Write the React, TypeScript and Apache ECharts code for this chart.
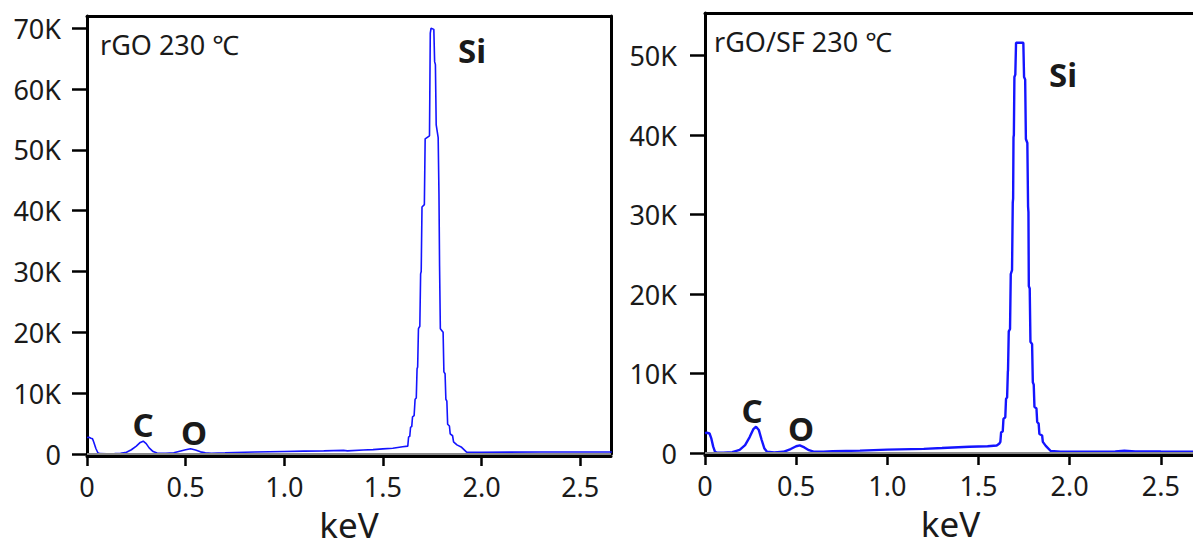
import React, { useEffect, useRef } from "react";
import * as echarts from "echarts";

// ---- Data: left panel (rGO 230 ℃) ----
const energyA = [
  0.0, 0.01, 0.02, 0.028, 0.035, 0.045, 0.055, 0.065, 0.1, 0.14, 0.17, 0.2, 0.225, 0.25, 0.27, 0.285, 0.3, 0.315,
  0.335, 0.355, 0.4, 0.44, 0.47, 0.5, 0.525, 0.55, 0.575, 0.6, 0.63, 0.7, 0.8, 0.85, 1.0, 1.1, 1.2, 1.3, 1.32, 1.4,
  1.45, 1.5, 1.55, 1.6, 1.626, 1.63, 1.636, 1.64, 1.646, 1.65, 1.658, 1.663, 1.669, 1.673, 1.676, 1.68, 1.687,
  1.691, 1.694, 1.698, 1.71, 1.714, 1.736, 1.74, 1.744, 1.758, 1.762, 1.766, 1.77, 1.78, 1.784, 1.787, 1.791,
  1.805, 1.809, 1.815, 1.819, 1.824, 1.828, 1.837, 1.841, 1.853, 1.858, 1.875, 1.899, 1.924, 2.0, 2.3, 2.66,
];
const countsA = [
  2700, 2750, 2600, 2500, 1900, 900, 200, 60, 50, 60, 120, 300, 700, 1300, 1900, 2100, 1700, 1000,
  400, 150, 100, 200, 450, 700, 850, 650, 350, 200, 120, 180, 280, 330, 420, 480, 520, 600, 520, 650,
  720, 850, 950, 1200, 1300, 2800, 2900, 4400, 4500, 6100, 6300, 9000, 9200, 14000, 14300, 20600, 21000,
  29600, 30000, 40600, 41000, 51800, 52300, 69200, 70000, 69800, 64500, 64000, 54100, 52000, 42800, 31000, 20600,
  20000, 13500, 13200, 9000, 8700, 4900, 4600, 3300, 3000, 2000, 1500, 1100, 300, 300, 330, 320,
];

// ---- Data: right panel (rGO/SF 230 ℃) ----
const energyB = [
  0.0, 0.01, 0.025, 0.035, 0.045, 0.055, 0.065, 0.1, 0.15, 0.19, 0.22, 0.245, 0.265, 0.28, 0.295, 0.31, 0.325,
  0.34, 0.38, 0.43, 0.47, 0.5, 0.52, 0.545, 0.57, 0.6, 0.65, 0.7, 0.85, 1.0, 1.2, 1.3, 1.45, 1.55, 1.6, 1.615,
  1.62, 1.624, 1.633, 1.637, 1.647, 1.651, 1.657, 1.661, 1.662, 1.666, 1.673, 1.677, 1.684, 1.688, 1.69, 1.692,
  1.694, 1.697, 1.702, 1.706, 1.746, 1.75, 1.756, 1.76, 1.768, 1.772, 1.774, 1.776, 1.781, 1.785, 1.794, 1.798,
  1.803, 1.807, 1.818, 1.822, 1.83, 1.834, 1.849, 1.853, 1.869, 1.896, 1.95, 2.1, 2.25, 2.3, 2.36, 2.5, 2.7,
];
const countsB = [
  2500, 2550, 2450, 1800, 800, 150, 50, 40, 100, 400, 1000, 2000, 3000, 3300, 2900, 1700, 600,
  150, 80, 150, 500, 850, 950, 700, 350, 150, 150, 220, 300, 420, 520, 620, 780, 850, 950, 1200,
  1400, 2600, 2700, 4300, 4500, 6800, 7000, 10200, 10400, 15300, 15600, 22500, 23000, 31500, 32000, 39700,
  40000, 47300, 47600, 51600, 51600, 47300, 47000, 39500, 39000, 31000, 30300, 21000, 20700, 14000, 13700, 8900,
  8600, 5800, 5600, 3900, 3700, 2400, 2200, 1400, 900, 250, 150, 150, 200, 280, 200, 180, 170,
];

const xTicks = [0, 0.5, 1.0, 1.5, 2.0, 2.5];
const yTicksA = [0, 10000, 20000, 30000, 40000, 50000, 60000, 70000];
const yTicksB = [0, 10000, 20000, 30000, 40000, 50000];
const panelTitles = ["rGO 230 ℃", "rGO/SF 230 ℃"];
const peakNames = ["C", "O", "Si"];

const FONT = '"Noto Sans", "Noto Sans CJK KR", sans-serif';
const INK = "#1a1a1a";
const BLUE = "#1414ff";

export default function App() {
  const ref = useRef<HTMLDivElement>(null);

  useEffect(() => {
    if (!ref.current) return;
    const chart = echarts.init(ref.current, null, { renderer: "svg" });

    const pairs = (e: number[], c: number[]) => e.map((x, i) => [x, c[i]]);

    const bottomX = (gridIndex: number, max: number) => ({
      type: "value",
      gridIndex,
      min: 0,
      max,
      position: "bottom",
      offset: 2,
      axisLine: { show: true, onZero: false, lineStyle: { color: "#000", width: 3 } },
      axisTick: { show: true, inside: false, length: 10, customValues: xTicks, lineStyle: { color: "#000", width: 2.5 } },
      axisLabel: {
        customValues: xTicks,
        formatter: (v: number) => (v === 0 ? "0" : v.toFixed(1)),
        fontSize: 27,
        color: INK,
        fontFamily: FONT,
        margin: 17,
      },
      splitLine: { show: false },
      name: "keV",
      nameLocation: "middle",
      nameGap: 50,
      nameTextStyle: { fontSize: 35, lineHeight: 36, color: INK, fontFamily: FONT },
    });
    const topX = (gridIndex: number, max: number) => ({
      type: "value",
      gridIndex,
      min: 0,
      max,
      position: "top",
      axisLine: { show: true, onZero: false, lineStyle: { color: "#000", width: 3 } },
      axisTick: { show: false },
      axisLabel: { show: false },
      splitLine: { show: false },
    });
    const leftY = (gridIndex: number, max: number, ticks: number[], margin: number) => ({
      type: "value",
      gridIndex,
      min: 0,
      max,
      position: "left",
      axisLine: { show: true, onZero: false, lineStyle: { color: "#000", width: 3 } },
      axisTick: { show: true, inside: false, length: 15, customValues: ticks, lineStyle: { color: "#000", width: 2.5 } },
      axisLabel: {
        customValues: ticks,
        formatter: (v: number) => (v === 0 ? "0" : v / 1000 + "K"),
        fontSize: 27,
        color: INK,
        fontFamily: FONT,
        margin,
      },
      splitLine: { show: false },
    });

    const zeroLine = {
      silent: true,
      symbol: "none",
      label: { show: false },
      lineStyle: { color: "#8a8a8a", width: 2, type: "solid" },
      data: [{ yAxis: 0 }],
    };

    const txt = (text: string, x: number, y: number, size: number, bold: boolean, align = "left") => ({
      type: "text",
      x,
      y,
      silent: true,
      style: {
        text,
        fill: INK,
        font: `${bold ? "bold " : ""}${size}px ${FONT}`,
        textAlign: align,
        textVerticalAlign: "middle",
        verticalAlign: "middle",
      },
    });

    chart.setOption({
      animation: false,
      backgroundColor: "#fff",
      grid: [
        { left: 87, top: 16, width: 524, height: 438 },
        { left: 705, top: 13, width: 491, height: 440 },
      ],
      xAxis: [
        bottomX(0, 2.656),
        bottomX(1, 2.693),
        topX(0, 2.656),
        topX(1, 2.693),
      ],
      yAxis: [
        leftY(0, 72000, yTicksA, 26),
        leftY(1, 55350, yTicksB, 28),
        {
          type: "value",
          gridIndex: 0,
          min: 0,
          max: 72000,
          position: "right",
          axisLine: { show: true, onZero: false, lineStyle: { color: "#000", width: 3 } },
          axisTick: { show: false },
          axisLabel: { show: false },
          splitLine: { show: false },
        },
      ],
      series: [
        {
          type: "line",
          xAxisIndex: 0,
          yAxisIndex: 0,
          data: pairs(energyA, countsA),
          showSymbol: false,
          lineStyle: { color: BLUE, width: 1.6 },
          markLine: zeroLine,
          z: 3,
        },
        {
          type: "line",
          xAxisIndex: 1,
          yAxisIndex: 1,
          data: pairs(energyB, countsB),
          showSymbol: false,
          lineStyle: { color: BLUE, width: 2.4 },
          markLine: zeroLine,
          z: 3,
        },
      ],
      graphic: [
        txt(panelTitles[0], 100, 44, 27, false),
        txt(peakNames[2], 458, 50, 33, true),
        txt(peakNames[0], 143, 424, 33, true, "center"),
        txt(peakNames[1], 194, 432, 33, true, "center"),
        txt(panelTitles[1], 714, 41, 27, false),
        txt(peakNames[2], 1049, 74, 33, true),
        txt(peakNames[0], 752, 410, 33, true, "center"),
        txt(peakNames[1], 801, 428, 33, true, "center"),
      ],
    });

    return () => chart.dispose();
  }, []);

  return (
    <div
      ref={ref}
      style={{ position: "fixed", left: 0, top: 0, width: 1200, height: 547, background: "#fff" }}
    />
  );
}
